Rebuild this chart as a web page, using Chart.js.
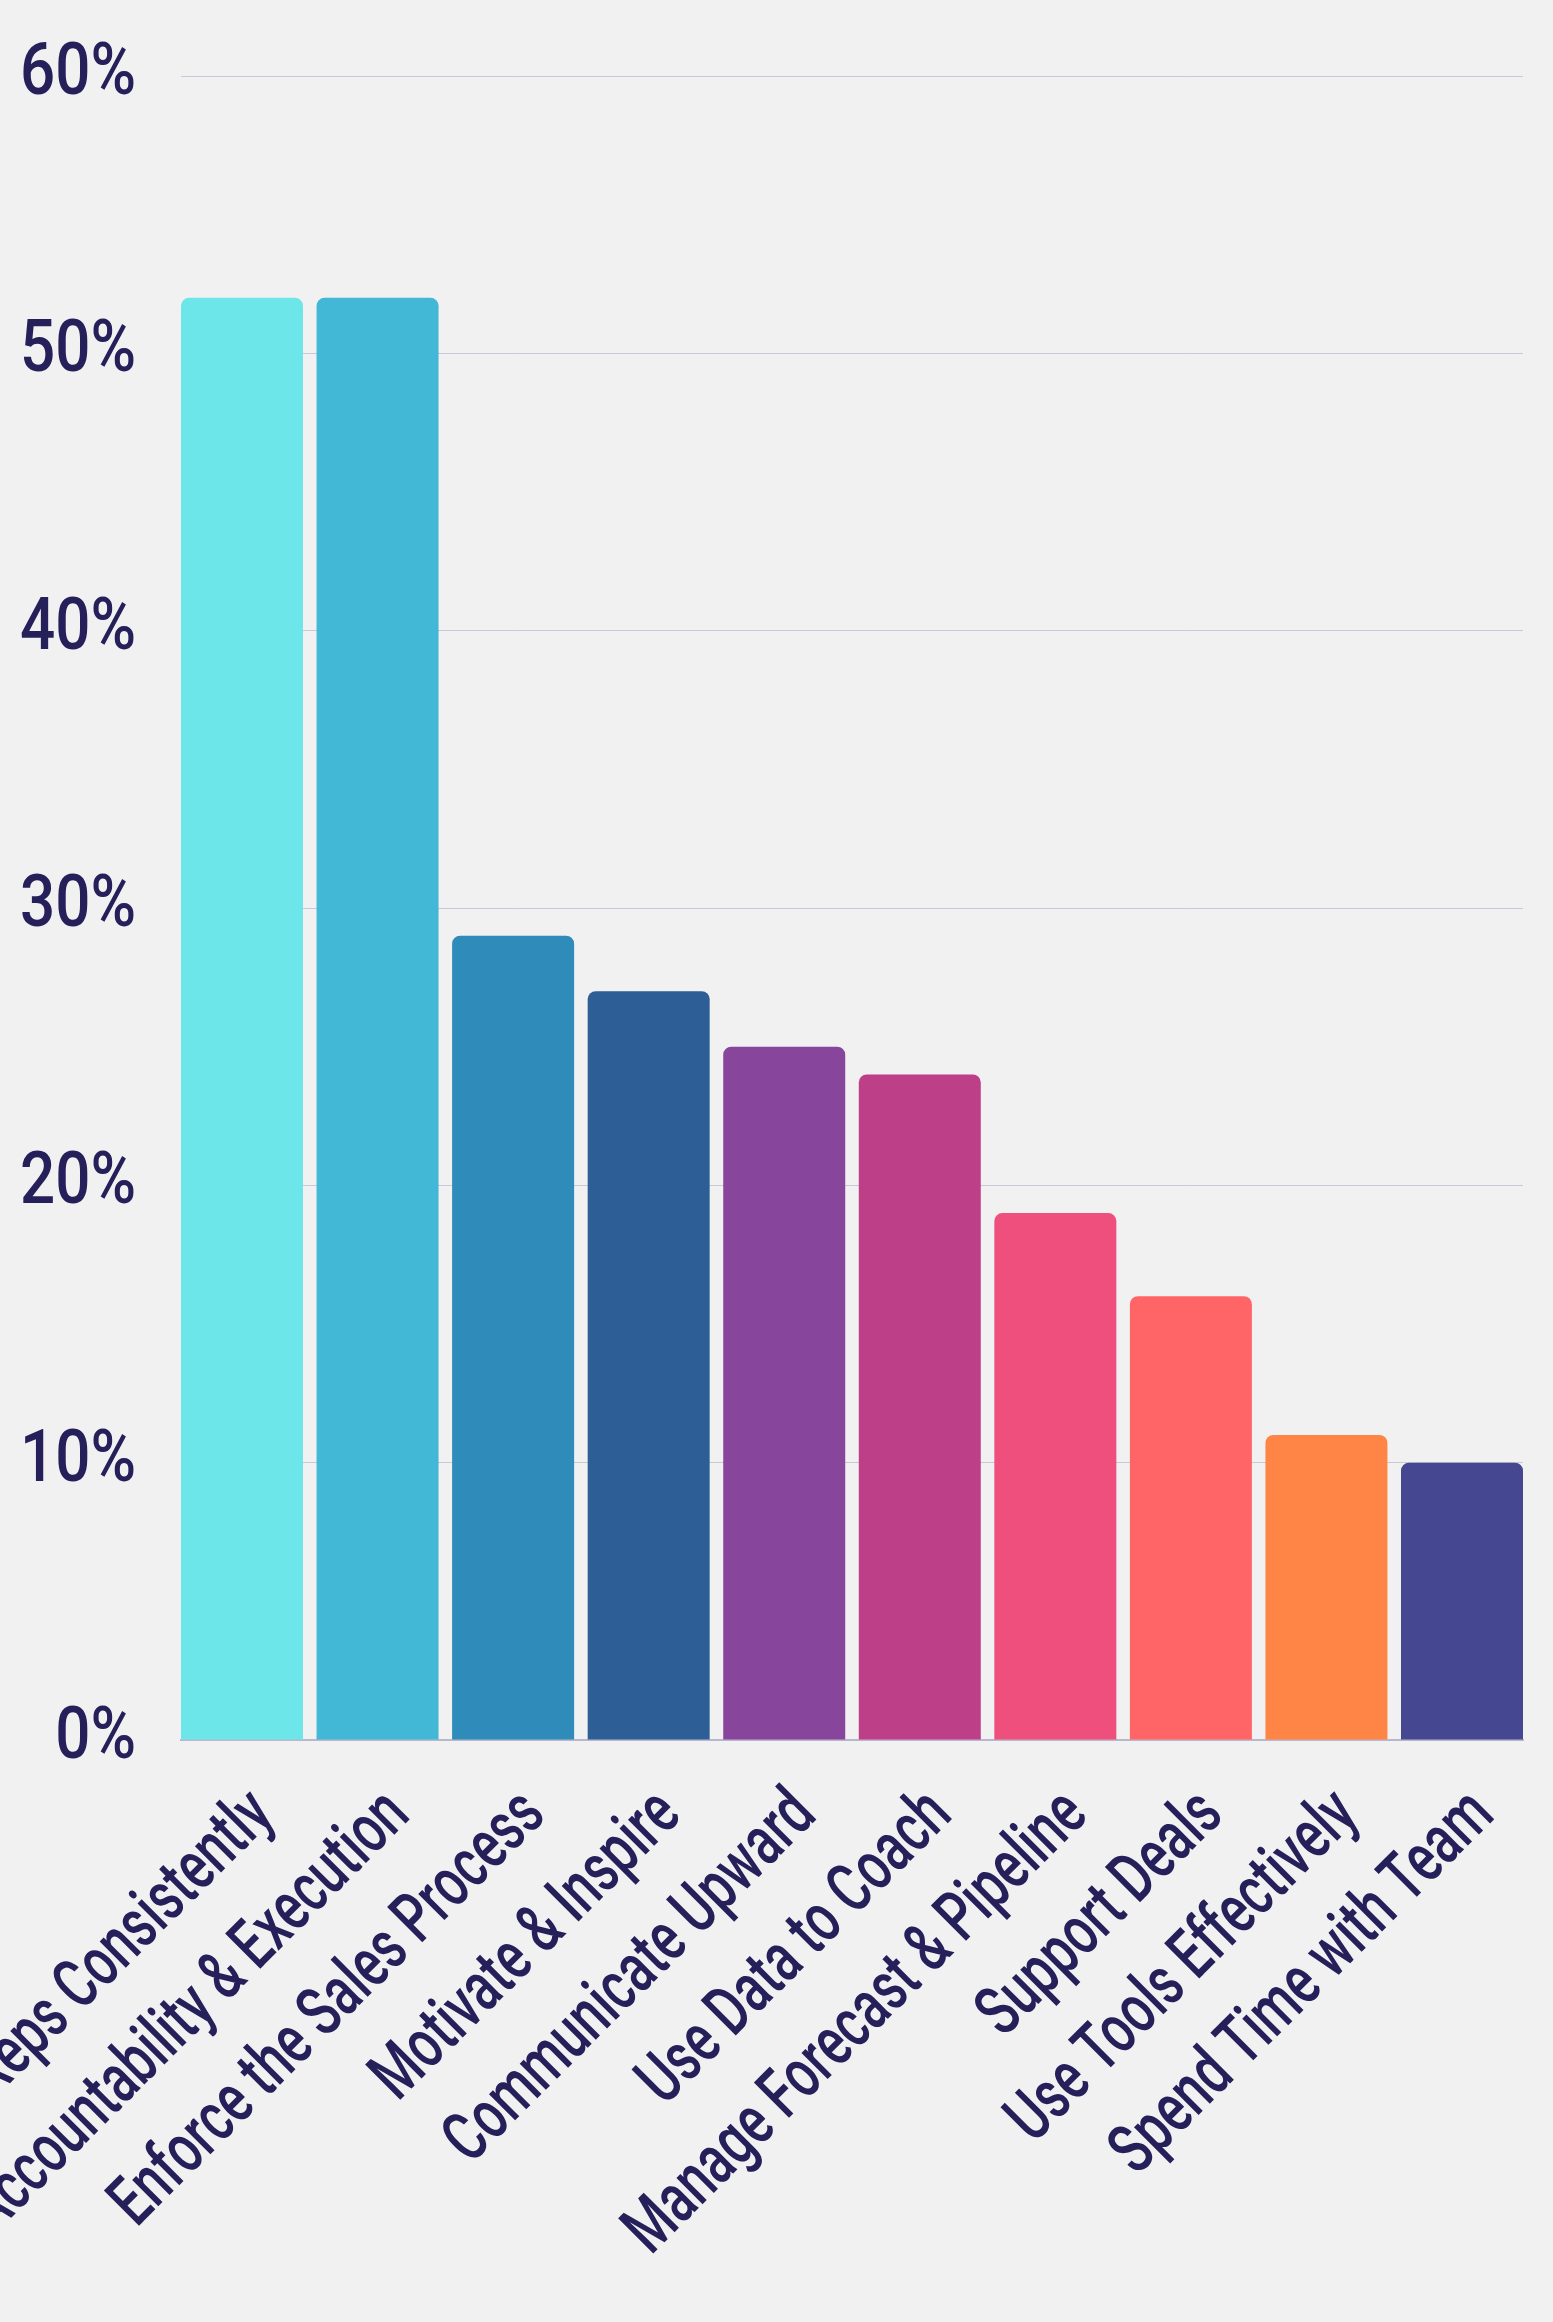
<!DOCTYPE html>
<html>
<head>
<meta charset="utf-8">
<title>Sales manager skills</title>
<script src="https://cdn.jsdelivr.net/npm/chart.js@4/dist/chart.umd.min.js"></script>
<style>
  html, body { margin: 0; padding: 0; background: #f1f1f1; }
  #wrap { width: 1553px; height: 2322px; }
  canvas { display: block; }
</style>
</head>
<body>
<div id="wrap"><canvas id="chart" width="1553" height="2322"></canvas></div>
<script>
// Skill categories along the x axis
const categories = [
  'Coach Reps Consistently',
  'Drive Accountability & Execution',
  'Enforce the Sales Process',
  'Motivate & Inspire',
  'Communicate Upward',
  'Use Data to Coach',
  'Manage Forecast & Pipeline',
  'Support Deals',
  'Use Tools Effectively',
  'Spend Time with Team'
];

// Share of respondents, in percent
const shares = [52, 52, 29, 27, 25, 24, 19, 16, 11, 10];

// One colour per bar
const barColors = [
  '#6ce6e9', '#43b7d6', '#2e8bba', '#2d5f96', '#87469b',
  '#bc3f88', '#ef4f7d', '#ff6567', '#ff8547', '#454791'
];

// Value axis ticks
const yTicks = [0, 10, 20, 30, 40, 50, 60];

const textColor = '#25205a';
const fontFamily = "Roboto, 'DejaVu Sans', sans-serif";

// Horizontal squeeze that gives the labels a condensed, gothic look.
// Rotated (category) labels are squeezed more than the upright value labels.
const squeezeCategory = 0.71;
const squeezeValue = 0.86;

const canvas = document.getElementById('chart');
const ctx = canvas.getContext('2d');
const plainFillText = ctx.fillText.bind(ctx);
ctx.fillText = function (text, x, y, maxWidth) {
  const m = this.getTransform();
  const rotated = Math.abs(m.b) > 1e-6;
  this.save();
  this.translate(x, y);
  this.scale(rotated ? squeezeCategory : squeezeValue, 1);
  plainFillText(text, 0, 0);
  this.restore();
};

// Bars sit on integer positions of a linear axis so the first and last bar
// run flush with the edges of the plot area.
const barPct = 0.9;
const edge = barPct / 2;

new Chart(ctx, {
  type: 'bar',
  data: {
    datasets: [{
      data: categories.map((c, i) => ({ x: i, y: shares[i] })),
      backgroundColor: barColors,
      borderRadius: { topLeft: 8, topRight: 8, bottomLeft: 0, bottomRight: 0 },
      borderSkipped: 'start',
      barPercentage: barPct,
      categoryPercentage: 1
    }]
  },
  options: {
    responsive: false,
    animation: false,
    layout: { padding: { top: 76, right: 30, bottom: 0, left: 0 } },
    plugins: {
      legend: { display: false },
      tooltip: { enabled: false }
    },
    scales: {
      x: {
        type: 'linear',
        min: -edge,
        max: categories.length - 1 + edge,
        offset: false,
        grid: { display: false, drawTicks: false },
        border: { display: true, color: '#bab6cd', width: 2 },
        afterBuildTicks: (scale) => {
          scale.ticks = categories.map((c, i) => ({ value: i }));
        },
        afterFit: (scale) => {
          scale.paddingLeft = 0;
          scale.paddingRight = 0;
          scale.height = 582;
        },
        ticks: {
          autoSkip: false,
          minRotation: 45,
          maxRotation: 45,
          padding: 35,
          labelOffset: 22,
          color: textColor,
          font: { family: fontFamily, size: 70, weight: '500' },
          callback: (value) => categories[value]
        }
      },
      y: {
        min: yTicks[0],
        max: yTicks[yTicks.length - 1],
        afterBuildTicks: (scale) => {
          scale.ticks = yTicks.map(v => ({ value: v }));
        },
        afterFit: (scale) => {
          scale.width = 181;
          scale.paddingTop = 0;
          scale.paddingBottom = 0;
        },
        grid: { color: '#c9c7d8', lineWidth: 1, drawTicks: false },
        border: { display: false },
        ticks: {
          padding: 45,
          color: textColor,
          font: { family: fontFamily, size: 72, weight: '500' },
          callback: (value) => value + '%'
        }
      }
    }
  }
});
</script>
</body>
</html>
